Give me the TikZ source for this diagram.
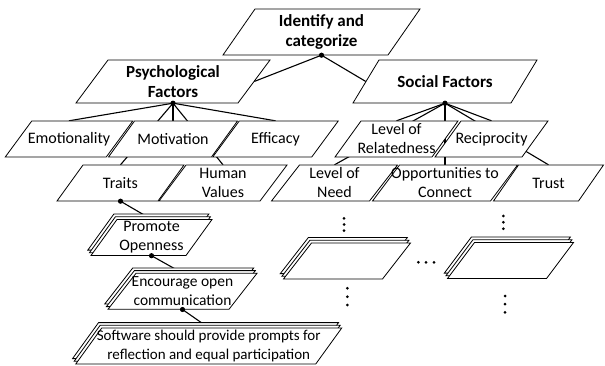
\documentclass[tikz,border=0pt]{standalone}
\usepackage{fontspec}
\setmainfont{Carlito}
\usetikzlibrary{calc}
\pgfdeclarelayer{background}
\pgfsetlayers{background,main}
\tikzset{
  pshape/.style={draw=black, fill=white, line width=0.8pt, line join=miter},
  ptext/.style={rectangle, draw=none, inner sep=0pt, align=center, font=\fontsize{16}{19}\selectfont},
  ptitle/.style={font=\fontsize{17}{20}\selectfont\bfseries},
  psmall/.style={font=\fontsize{15}{18.5}\selectfont},
  pmid/.style={font=\fontsize{15.5}{18.5}\selectfont},
  conn/.style={draw=black, line width=1.1pt},
  jdot/.style={fill=black},
  edot/.style={fill=black},
}
\newcommand{\pgpoly}[5]{%
  \path[pshape] ({#1-#3/2+#5/2},{#2-#4/2}) -- ({#1+#3/2+#5/2},{#2-#4/2}) -- ({#1+#3/2-#5/2},{#2+#4/2}) -- ({#1-#3/2-#5/2},{#2+#4/2}) -- cycle;}
\newcommand{\pg}[8]{%
  \pgpoly{#2}{#3}{#4}{#5}{#6}
  \node[ptext, minimum width=#4pt, minimum height=#5pt, #8] (#1) at (#2,#3) {#7};}
\newcommand{\pgstack}[8]{%
  \begin{scope}[shift={(-3.2,-5.4)}]\pgpoly{#2}{#3}{#4}{#5}{#6}\end{scope}
  \begin{scope}[shift={(-1.6,-2.7)}]\pgpoly{#2}{#3}{#4}{#5}{#6}\end{scope}
  \pg{#1}{#2}{#3}{#4}{#5}{#6}{#7}{#8}}
\begin{document}
\begin{tikzpicture}[x=1pt,y=-1pt]
\useasboundingbox (0,0) rectangle (605,366);
\pg{ident}{321.5}{32}{165}{46}{32}{Identify and\\categorize}{ptitle}
\pg{psych}{173}{81.5}{162}{43}{32}{Psychological\\Factors}{ptitle}
\pg{social}{445}{81.5}{158}{43}{26}{Social Factors}{ptitle}
\pg{emo}{69}{139}{101}{36}{26.5}{Emotionality}{}
\pg{moti}{173}{139}{103}{36}{26}{Motivation}{}
\pg{eff}{275.5}{139}{99}{36}{26.5}{Efficacy}{}
\pg{rel}{396.5}{139}{97}{36}{26}{Level of\\Relatedness}{}
\pg{rec}{491.5}{139}{87}{36}{26}{Reciprocity}{}
\pg{traits}{120.5}{183}{101}{36}{26}{Traits}{}
\pg{hv}{223}{183}{101}{36}{27}{Human\\Values}{}
\pg{lon}{334.5}{183}{98}{36}{28}{Level of\\Need}{}
\pg{opp}{445}{183}{118}{36}{27}{Opportunities to\\Connect}{}
\pg{trust}{548.5}{183}{85}{36}{25}{Trust}{}
\pgstack{promote}{151.5}{237.5}{95}{36}{26}{Promote\\Openness}{}
\pgstack{encourage}{182.5}{291.3}{121}{36}{28}{Encourage open\\communication}{pmid}
\pgstack{software}{208.75}{346}{240}{36}{26}{Software should provide prompts for\\reflection and equal participation}{psmall}
\pgstack{blankA}{347}{261}{99}{36}{28}{}{}
\pgstack{blankB}{510.5}{260.5}{99}{36}{27}{}{}
\begin{pgfonlayer}{background}
\draw[conn] (ident.south) -- (psych.east);
\draw[conn] (ident.south) -- (social.west);
\foreach \c in {emo,traits,moti,hv,eff} \draw[conn] (psych.south) -- (\c.north);
\foreach \c in {rel,lon,opp,rec,trust} \draw[conn] (social.south) -- (\c.north);
\draw[conn] (traits.south) -- (promote.north);
\draw[conn] (promote.south) -- (encourage.north);
\draw[conn] (encourage.south) -- (software.north);
\end{pgfonlayer}
\foreach \n in {ident,psych,social,traits,promote,encourage} \fill[jdot] (\n.south) circle[radius=2.6pt];
\foreach \p in {(344,218.3),(344,224.5),(344,230.7),(347.3,288.3),(347.3,296.7),(347.3,305),(418.3,262.3),(426,262.3),(434,262.3),(503.3,216),(503.3,222.3),(503.3,228.7),(505,296),(505,304.2),(505,312.3)} \fill[edot] \p circle[radius=1.5pt];
\end{tikzpicture}
\end{document}
